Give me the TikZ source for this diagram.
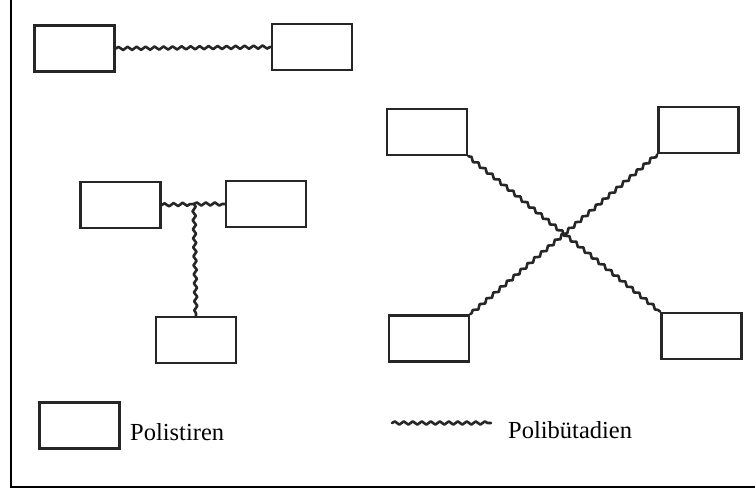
\documentclass[tikz,border=0pt]{standalone}
\usepackage{fontspec}
\setmainfont{Liberation Serif}
\usetikzlibrary{decorations.pathmorphing}
\begin{document}
\begin{tikzpicture}[x=1pt,y=-1pt,
  psbox/.style={draw=black!85, line width=2.6pt, minimum width=80pt, minimum height=46pt, inner sep=0pt},
  pbchain/.style={draw=black!85, line width=2.6pt, line cap=round, line join=round, decorate,
    decoration={snake, segment length=9pt, amplitude=1.6pt}},
  label/.style={anchor=base west, inner sep=0pt, font=\fontsize{24.5}{28}\selectfont}]
  \useasboundingbox (0,0) rectangle (755,488);
  % frame
  \draw[line width=2pt] (11,0) -- (11,487) -- (755,487);

  % linear block copolymer
  \node[psbox] (a1) at (74.5,48.5) {};
  \node[psbox] (a2) at (312,47) {};
  \draw[pbchain] (a1.east) -- (a2.west);

  % T-shaped (three-arm) copolymer
  \node[psbox] (t1) at (120.5,205) {};
  \node[psbox] (t2) at (266,204) {};
  \node[psbox] (t3) at (196,340) {};
  \coordinate (tj) at (194,204);
  \draw[pbchain] (t1.east) -- (tj);
  \draw[pbchain] (tj) -- (t2.west);
  \draw[pbchain] (tj) -- (t3.north);

  % X-shaped (four-arm) copolymer
  \node[psbox] (x1) at (427,132) {};
  \node[psbox] (x2) at (698.5,130) {};
  \node[psbox] (x3) at (429,338.5) {};
  \node[psbox] (x4) at (701.5,336) {};
  \draw[pbchain] (x1.south east) -- (x4.north west);
  \draw[pbchain] (x2.south west) -- (x3.north east);

  % legend
  \node[psbox] (lb) at (79.5,425.5) {};
  \node[label] (lbt) at (130,440) {Polistiren};
  \coordinate (lw1) at (392,423);
  \coordinate (lw2) at (491,423);
  \draw[pbchain] (lw1) -- (lw2);
  \node[label] (lwt) at (508,438) {Polibütadien};
\end{tikzpicture}
\end{document}
